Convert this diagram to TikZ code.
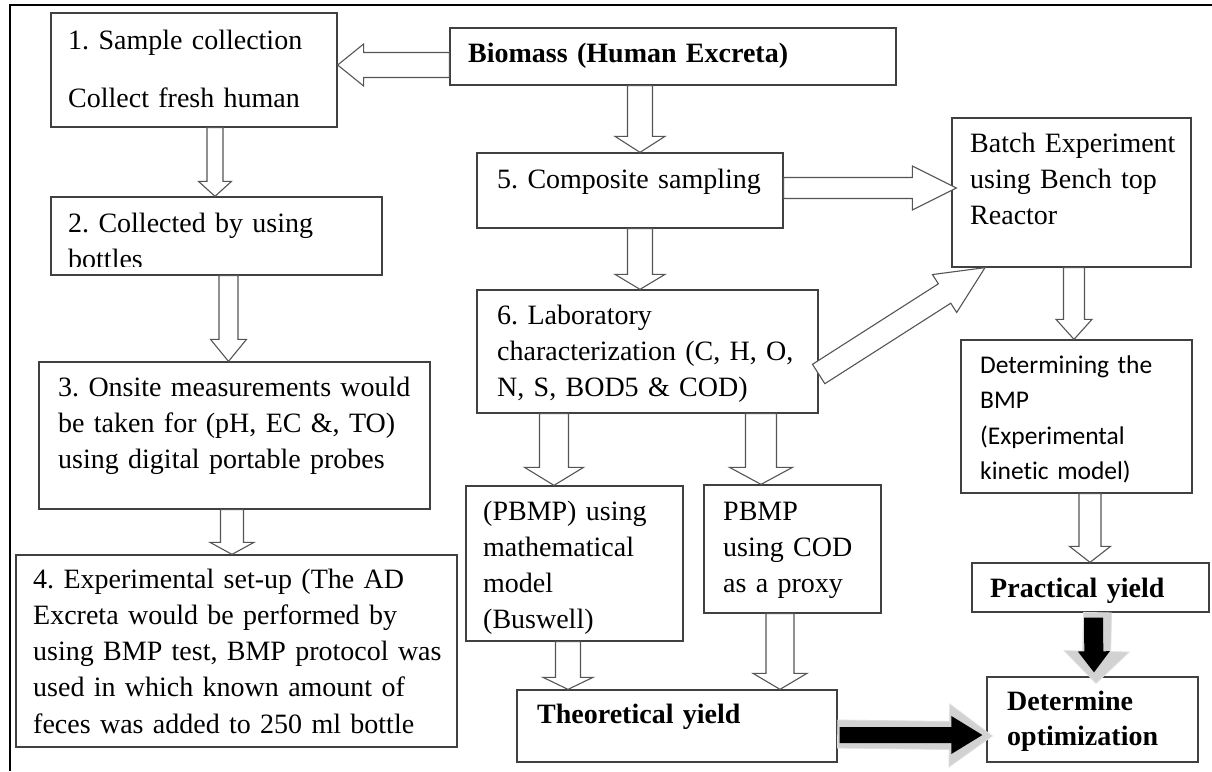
\documentclass[tikz,border=0pt]{standalone}
\usepackage{fontspec}
\setmainfont{Liberation Serif}
\newfontfamily\calib[Ligatures=NoCommon]{Carlito}
\usetikzlibrary{calc,fit}
\definecolor{edge}{HTML}{404040}
\definecolor{aedge}{HTML}{555555}
\definecolor{shade}{HTML}{D2D2D2}
\tikzset{
 box/.style={draw=edge, line width=1.3pt, inner sep=0pt},
 txt/.style={anchor=base west, inner sep=0pt, align=left, text width=20cm, font=\frenchspacing\fontsize{28}{36.3}\selectfont, text=black},
 btxt/.style={txt, font=\frenchspacing\fontsize{28}{35}\selectfont\bfseries},
 ctxt/.style={txt, font=\calib\frenchspacing\fontsize{25.5}{35.5}\selectfont},
 harrow/.style={draw=aedge, line width=1.1pt, fill=white, line join=miter},
 karrow/.style={fill=black, draw=none},
 sarrow/.style={fill=shade, draw=shade!70, line width=0.8pt},
}
\newcommand{\blockarrow}[6]{% #1 style, #2 start, #3 tip, #4 shaft half, #5 head half, #6 head length
  \coordinate (bah) at ($(#3)!#6!(#2)$);
  \path[#1] ($(#2)!#4!90:(#3)$) -- ($(bah)!#4!90:(#3)$) -- ($(bah)!#5!90:(#3)$) -- (#3) -- ($(bah)!#5!-90:(#3)$) -- ($(bah)!#4!-90:(#3)$) -- ($(#2)!#4!-90:(#3)$) -- cycle;
}
\begin{document}
\begin{tikzpicture}[x=1pt,y=-1pt]
\useasboundingbox (0,0) rectangle (1212,771);
\fill[white] (0,0) rectangle (1212,771);
% outer frame
\draw[line width=2.6pt] (10,771) -- (10,5) -- (1212,5);

% boxes
\node[box, fit={(51,13) (337,127)}] (b1) {};
\node[box, fit={(51,197) (382,275)}] (b2) {};
\node[box, fit={(39,362) (430,509)}] (b3) {};
\node[box, fit={(16,555) (457,747)}] (b4) {};
\node[box, fit={(450,28) (896,85)}] (b0) {};
\node[box, fit={(477,153) (783,228)}] (b5) {};
\node[box, fit={(477,290) (818,413)}] (b6) {};
\node[box, fit={(952,118) (1191,267)}] (bat) {};
\node[box, fit={(961,340) (1192,493)}] (bdet) {};
\node[box, fit={(972,563) (1209,612)}] (bpr) {};
\node[box, fit={(987,677) (1198,762)}] (bopt) {};
\node[box, fit={(466,486) (683,641)}] (bm) {};
\node[box, fit={(704,485) (881,613)}] (bc) {};
\node[box, fit={(517,690) (837,762)}] (bth) {};

% texts
\node[txt] (t1) at (68,49) {1. Sample collection\\[22pt]Collect fresh human};
\begin{scope}
\clip (51,197) rectangle (382,266);
\node[txt] (t2) at (68,232) {2. Collected by using\\bottles};
\end{scope}
\node[txt] (t3) at (58,396) {3. Onsite measurements would\\be taken for (pH, EC \&, TO)\\using digital portable probes};
\node[txt] (t4) at (33,588) {4. Experimental set-up (The AD\\Excreta would be performed by\\using BMP test, BMP protocol was\\used in which known amount of\\feces was added to 250 ml bottle};
\node[btxt] (t0) at (468,62) {Biomass (Human Excreta)};
\node[txt] (t5) at (497,188) {5. Composite sampling};
\node[txt] (t6) at (497,324) {6. Laboratory\\characterization (C, H, O,\\N, S, BOD5 \& COD)};
\node[txt] (tbat) at (970,152) {Batch Experiment\\using Bench top\\Reactor};
\node[ctxt] (tdet) at (980,373) {Determining the\\BMP\\(Experimental\\kinetic model)};
\node[btxt] (tpr) at (990,597) {Practical yield};
\node[btxt] (topt) at (1007,710) {Determine\\optimization};
\node[txt] (tm) at (483,520) {(PBMP) using\\mathematical\\model\\(Buswell)};
\node[txt] (tc) at (723,520) {PBMP\\using COD\\as a proxy};
\node[btxt] (tth) at (537,723) {Theoretical yield};

% connector end points
\coordinate (a1s) at (b0.west |- 0,65);   \coordinate (a1t) at (b1.east |- 0,65);
\coordinate (a2s) at (215,0 |- b1.south); \coordinate (a2t) at (215,0 |- b2.north);
\coordinate (a3s) at (228.5,0 |- b2.south); \coordinate (a3t) at (228.5,0 |- b3.north);
\coordinate (a4s) at (232,0 |- b3.south); \coordinate (a4t) at (232,0 |- b4.north);
\coordinate (a5s) at (640,0 |- b0.south); \coordinate (a5t) at (640,0 |- b5.north);
\coordinate (a6s) at (640,0 |- b5.south); \coordinate (a6t) at (640,0 |- b6.north);
\coordinate (a7s) at (b5.east |- 0,188);  \coordinate (a7t) at ($(bat.west |- 0,188)+(5,0)$);
\coordinate (a8s) at (b6.east |- 0,374);  \coordinate (a8t) at (985,0 |- bat.south);
\coordinate (a9s) at (1074,0 |- bat.south); \coordinate (a9t) at (1074,0 |- bdet.north);
\coordinate (a10s) at (1090,0 |- bdet.south); \coordinate (a10t) at (1090,0 |- bpr.north);
\coordinate (a11s) at (554,0 |- b6.south); \coordinate (a11t) at (554,0 |- bm.north);
\coordinate (a12s) at (761,0 |- b6.south); \coordinate (a12t) at (761,0 |- bc.north);
\coordinate (a13s) at (568,0 |- bm.south); \coordinate (a13t) at (568,0 |- bth.north);
\coordinate (a14s) at (780,0 |- bc.south); \coordinate (a14t) at (780,0 |- bth.north);

% hollow block arrows
\blockarrow{harrow}{a1s}{a1t}{12.5pt}{21pt}{26pt}
\blockarrow{harrow}{a2s}{a2t}{8pt}{16.5pt}{15pt}
\blockarrow{harrow}{a3s}{a3t}{9.5pt}{18pt}{22pt}
\blockarrow{harrow}{a4s}{a4t}{11.5pt}{22pt}{12pt}
\blockarrow{harrow}{a5s}{a5t}{12.5pt}{25pt}{16pt}
\blockarrow{harrow}{a6s}{a6t}{12.5pt}{25pt}{15pt}
\blockarrow{harrow}{a7s}{a7t}{10.5pt}{22pt}{44pt}
\blockarrow{harrow}{a8s}{a8t}{11.5pt}{22.5pt}{48pt}
\blockarrow{harrow}{a9s}{a9t}{10.5pt}{18pt}{20pt}
\blockarrow{harrow}{a10s}{a10t}{11pt}{20.5pt}{16pt}
\blockarrow{harrow}{a11s}{a11t}{14.5pt}{29.5pt}{18pt}
\blockarrow{harrow}{a12s}{a12t}{15.5pt}{31.5pt}{17pt}
\blockarrow{harrow}{a13s}{a13t}{12.5pt}{25pt}{12pt}
\blockarrow{harrow}{a14s}{a14t}{14pt}{27pt}{16pt}

% black arrows with light shadow
\coordinate (s1s) at (1097.5,0 |- bpr.south); \coordinate (s1t) at ($(1096,0 |- bopt.north)+(0,7)$);
\coordinate (k1s) at ($(1093.5,0 |- bpr.south)+(0,5)$); \coordinate (k1t) at ($(1094,0 |- bopt.north)+(0,-4)$);
\blockarrow{sarrow}{s1s}{s1t}{14pt}{32.5pt}{32pt}
\blockarrow{karrow}{k1s}{k1t}{9.5pt}{16pt}{21pt}
\coordinate (s2s) at (bth.east |- 0,734); \coordinate (s2t) at ($(bopt.west |- 0,736)+(6,0)$);
\coordinate (k2s) at ($(bth.east |- 0,735)+(2,0)$); \coordinate (k2t) at ($(bopt.west |- 0,735)+(-4,0)$);
\blockarrow{sarrow}{s2s}{s2t}{14pt}{31.5pt}{43pt}
\blockarrow{karrow}{k2s}{k2t}{8pt}{19pt}{31pt}
\end{tikzpicture}
\end{document}
